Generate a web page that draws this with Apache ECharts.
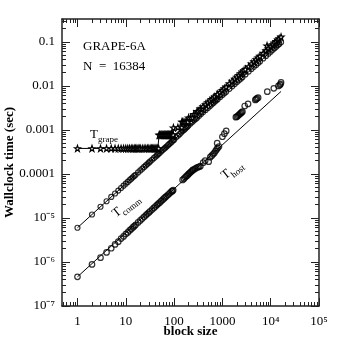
<!DOCTYPE html>
<html>
<head>
<meta charset="utf-8">
<title>GRAPE-6A wallclock time</title>
<script src="https://cdn.jsdelivr.net/npm/echarts@6/dist/echarts.min.js"></script>
<style>html,body{margin:0;padding:0;background:#fff;}</style>
</head>
<body>
<div id="main" style="width:338px;height:338px;"></div>
<script type="text/javascript">
// tick labels (positions are log10 of the value)
var xTickVals = [0, 1, 2, 3, 4, 5];
var xTickLabels = ['1', '10', '100', '1000', '10⁴', '10⁵'];
var yTickVals = [-7, -6, -5, -4, -3, -2, -1];
var yTickLabels = ['10⁻⁷', '10⁻⁶', '10⁻⁵', '0.0001', '0.001', '0.01', '0.1'];

// T_grape (stars)
var grapeN = [1,2,3,4,5,6,7,8,9,10,11,12,13,14,15,16,17,18,19,20,22,24,26,28,30,32,34,36,38,40,42,44,46,48,
  49,50,52,54,56,58,60,62,64,66,68,70,72,74,76,78,80,82,84,86,88,90,92,94,96,
  97,120,144,145,150,160,170,180,192,
  200,220,240,256,280,300,320,350,380,400,450,500,550,600,650,700,768,800,900,1000,1100,1200,1400,1600,
  1800,2000,2200,2400,2600,2800,3000,3500,4000,4500,5000,5500,6000,7000,8000,8400,9000,10000,11000,
  12000,13000,14000,15000,16384];
var grapeT = [3.8e-4,3.8e-4,3.8e-4,3.8e-4,3.8e-4,3.8e-4,3.8e-4,3.8e-4,3.8e-4,3.8e-4,3.8e-4,3.8e-4,3.8e-4,
  3.8e-4,3.8e-4,3.8e-4,3.8e-4,3.8e-4,3.8e-4,3.8e-4,3.8e-4,3.8e-4,3.8e-4,3.8e-4,3.8e-4,3.8e-4,3.8e-4,
  3.8e-4,3.8e-4,3.8e-4,3.8e-4,3.8e-4,3.8e-4,3.8e-4,
  7.7e-4,7.7e-4,7.7e-4,7.7e-4,7.7e-4,7.7e-4,7.7e-4,7.7e-4,7.7e-4,7.7e-4,7.7e-4,7.7e-4,7.7e-4,7.7e-4,
  7.7e-4,7.7e-4,7.7e-4,7.7e-4,7.7e-4,7.7e-4,7.7e-4,7.7e-4,7.7e-4,7.7e-4,7.7e-4,
  1.12e-3,1.14e-3,1.14e-3,1.52e-3,1.52e-3,1.52e-3,1.52e-3,1.52e-3,1.52e-3,
  1.9e-3,1.9e-3,1.9e-3,2.28e-3,2.28e-3,2.66e-3,2.66e-3,3.04e-3,3.04e-3,3.42e-3,3.8e-3,4.18e-3,4.56e-3,
  4.94e-3,5.32e-3,5.7e-3,6.08e-3,6.46e-3,7.22e-3,7.98e-3,8.74e-3,9.5e-3,1.14e-2,1.29e-2,
  1.44e-2,1.6e-2,1.75e-2,1.9e-2,2.09e-2,2.24e-2,2.39e-2,2.77e-2,3.19e-2,3.57e-2,3.99e-2,4.37e-2,4.75e-2,
  5.55e-2,6.35e-2,8.2e-2,7.1e-2,7.9e-2,8.7e-2,9.5e-2,0.103,0.111,0.119,0.13];

// T_comm (open circles)
var commN = [1,2,3,4,5,6,7,8,9,10,11,12,13,14,15,16,18,20,22,24,26,28,30,32,35,38,41,44,47,50,54,58,62,
  66,70,75,80,85,90,96,100,110,120,130,140,150,160,170,180,190,200,220,240,260,280,300,330,360,400,450,
  500,550,600,650,700,750,800,900,1000,1100,1200,1400,1600,1800,2000,2200,2400,2600,3000,3500,4000,
  4500,5000,5500,6000,7000,8000,9000,10000,11000,12000,13000,14000,15000,16384];
var commT = [6.0e-6,1.2e-5,1.8e-5,2.4e-5,3.0e-5,3.6e-5,4.2e-5,4.8e-5,5.4e-5,6.0e-5,6.6e-5,7.2e-5,7.8e-5,
  8.4e-5,9.0e-5,9.6e-5,1.08e-4,1.2e-4,1.32e-4,1.44e-4,1.56e-4,1.68e-4,1.8e-4,1.92e-4,2.1e-4,2.28e-4,
  2.46e-4,2.64e-4,2.82e-4,3.0e-4,3.24e-4,3.48e-4,3.72e-4,3.96e-4,4.2e-4,4.5e-4,4.8e-4,5.1e-4,5.4e-4,
  5.8e-4,6.0e-4,6.8e-4,7.4e-4,8.0e-4,8.7e-4,9.4e-4,1.0e-3,1.07e-3,1.13e-3,1.2e-3,1.27e-3,1.4e-3,
  1.53e-3,1.65e-3,1.78e-3,1.9e-3,2.1e-3,2.3e-3,2.55e-3,2.85e-3,3.15e-3,3.45e-3,3.8e-3,4.1e-3,4.4e-3,
  4.7e-3,5.0e-3,5.6e-3,6.2e-3,6.8e-3,7.4e-3,8.6e-3,9.8e-3,1.1e-2,1.22e-2,1.34e-2,1.46e-2,1.58e-2,
  1.82e-2,2.12e-2,2.42e-2,2.72e-2,3.0e-2,3.3e-2,3.6e-2,4.2e-2,4.8e-2,5.4e-2,6.0e-2,6.6e-2,7.2e-2,
  7.8e-2,8.4e-2,9.0e-2,9.8e-2];

// T_host (open circles)
var hostN = [1,2,3,4,5,6,7,8,9,10,11,12,13,14,15,16,18,20,22,24,26,28,30,32,35,38,41,44,47,50,54,58,62,
  66,70,75,80,85,90,93,96,150,160,170,180,190,200,210,220,230,240,250,270,290,310,330,350,400,440,520,
  560,600,640,680,720,760,800,850,780,1000,1100,1200,1900,2000,2100,2200,2300,2400,2500,2600,2900,3400,
  4800,5000,5200,5500,8500,11600,14500,15500,16000,16384];
var hostT = [4.6e-7,8.8e-7,1.25e-6,1.65e-6,2.05e-6,2.5e-6,2.9e-6,3.4e-6,3.8e-6,4.3e-6,4.7e-6,5.2e-6,5.6e-6,
  6.1e-6,6.5e-6,7.0e-6,7.9e-6,8.8e-6,9.7e-6,1.06e-5,1.15e-5,1.24e-5,1.33e-5,1.42e-5,1.55e-5,1.69e-5,
  1.82e-5,1.96e-5,2.1e-5,2.23e-5,2.41e-5,2.6e-5,2.78e-5,2.96e-5,3.14e-5,3.37e-5,3.6e-5,3.83e-5,4.05e-5,
  4.1e-5,4.3e-5,7.3e-5,7.8e-5,8.4e-5,8.9e-5,9.4e-5,1.0e-4,1.05e-4,1.1e-4,1.15e-4,1.2e-4,1.25e-4,1.3e-4,
  1.38e-4,1.42e-4,1.45e-4,1.5e-4,1.8e-4,2.0e-4,1.9e-4,2.4e-4,2.6e-4,2.8e-4,3.0e-4,3.3e-4,3.6e-4,3.9e-4,
  4.2e-4,5.0e-4,7.0e-4,8.2e-4,9.5e-4,1.95e-3,2.0e-3,2.1e-3,2.2e-3,2.3e-3,2.4e-3,2.5e-3,2.6e-3,3.5e-3,
  3.9e-3,4.8e-3,5.0e-3,5.2e-3,5.4e-3,7.4e-3,8.8e-3,1.0e-2,1.05e-2,1.1e-2,1.2e-2];

// straight reference lines
var commLineN = [1, 16384];
var commLineT = [6.0e-6, 0.098];
var hostLineN = [1, 16384];
var hostLineT = [4.6e-7, 7.5e-3];

function toLog(ns, ts) {
  return ns.map(function (n, i) { return [Math.log10(n), Math.log10(ts[i])]; });
}

var X_MIN = -0.32, X_MAX = 5, Y_MIN = -7, Y_MAX = -0.48;
var FONT = 'Liberation Serif';
var INK = '#222';

function minorTicks(d0, d1, lo, hi) {
  var out = [];
  for (var d = d0; d <= d1; d++) {
    for (var k = 2; k <= 9; k++) {
      var v = d + Math.log10(k);
      if (v > lo && v < hi) out.push(v);
    }
  }
  return out;
}
var xMinor = minorTicks(-1, 4, X_MIN, X_MAX);
var yMinor = minorTicks(-8, -1, Y_MIN, Y_MAX);

function xAxisDef(pos, major) {
  return {
    type: 'value', min: X_MIN, max: X_MAX, position: pos,
    axisLine: { show: major, onZero: false, lineStyle: { color: INK, width: 1.5 } },
    axisTick: { show: true, inside: true, length: major ? 8 : 4,
      customValues: major ? xTickVals : xMinor, lineStyle: { color: INK, width: 1 } },
    axisLabel: { show: major && pos === 'bottom', customValues: xTickVals, margin: 9,
      fontFamily: FONT, fontSize: 13, color: '#000',
      formatter: function (v) { return xTickLabels[xTickVals.indexOf(Math.round(v))]; } },
    splitLine: { show: false },
    name: (major && pos === 'bottom') ? 'block size' : '',
    nameLocation: 'middle', nameGap: 19, nameMoveOverlap: false,
    nameTextStyle: { fontFamily: FONT, fontSize: 13, fontWeight: 'bold', color: '#000' }
  };
}
function yAxisDef(pos, major) {
  return {
    type: 'value', min: Y_MIN, max: Y_MAX, position: pos,
    axisLine: { show: major, onZero: false, lineStyle: { color: INK, width: 1.5 } },
    axisTick: { show: true, inside: true, length: major ? 8 : 4,
      customValues: major ? yTickVals : yMinor, lineStyle: { color: INK, width: 1 } },
    axisLabel: { show: major && pos === 'left', customValues: yTickVals, margin: 7,
      fontFamily: FONT, fontSize: 13, color: '#000',
      formatter: function (v) { return yTickLabels[yTickVals.indexOf(Math.round(v))]; } },
    splitLine: { show: false },
    name: (major && pos === 'left') ? 'Wallclock time (sec)' : '',
    nameLocation: 'middle', nameGap: 46, nameMoveOverlap: false,
    nameTextStyle: { fontFamily: FONT, fontSize: 13, fontWeight: 'bold', color: '#000' }
  };
}

var star = 'path://M0,-10L2.35,-3.24L9.51,-3.09L3.8,1.24L5.88,8.09L0,4L-5.88,8.09L-3.8,1.24L-9.51,-3.09L-2.35,-3.24Z';
var openItem = { color: 'rgba(0,0,0,0)', borderColor: '#000', borderWidth: 1.2 };

var myChart = echarts.init(document.getElementById('main'));
myChart.setOption({
  animation: false,
  backgroundColor: '#fff',
  grid: { left: 62, right: 19, top: 19, bottom: 32, containLabel: false, outerBoundsMode: 'none' },
  xAxis: [xAxisDef('bottom', true), xAxisDef('bottom', false), xAxisDef('top', true), xAxisDef('top', false)],
  yAxis: [yAxisDef('left', true), yAxisDef('left', false), yAxisDef('right', true), yAxisDef('right', false)],
  series: [
    { name: 'comm fit', type: 'line', data: toLog(commLineN, commLineT), showSymbol: false,
      lineStyle: { color: '#000', width: 1 }, silent: true },
    { name: 'host fit', type: 'line', data: toLog(hostLineN, hostLineT), showSymbol: false,
      lineStyle: { color: '#000', width: 1 }, silent: true },
    { name: 'T_comm', type: 'scatter', data: toLog(commN, commT), symbol: 'circle', symbolSize: 5,
      itemStyle: openItem },
    { name: 'T_host', type: 'scatter', data: toLog(hostN, hostT), symbol: 'circle', symbolSize: 5.5,
      itemStyle: openItem },
    { name: 'T_grape', type: 'line', data: toLog(grapeN, grapeT), symbol: star, symbolSize: 6,
      showAllSymbol: true,
      lineStyle: { color: '#000', width: 1 },
      itemStyle: { color: '#fff', borderColor: '#000', borderWidth: 1.2 } }
  ],
  graphic: [
    { type: 'text', left: 83, top: 40, style: { text: 'GRAPE-6A', font: '13px "Liberation Serif"', fill: '#000' } },
    { type: 'text', left: 83, top: 60, style: { text: 'N  =  16384', font: '13px "Liberation Serif"', fill: '#000' } },
    { type: 'group', x: 90, y: 128, children: [
      { type: 'text', x: 0, y: 0, style: { text: 'T', font: '13px "Liberation Serif"', fill: '#000' } },
      { type: 'text', x: 8, y: 7, style: { text: 'grape', font: '9px "Liberation Serif"', fill: '#000' } }
    ] },
    { type: 'group', x: 110, y: 210, rotation: 38 * Math.PI / 180, children: [
      { type: 'text', x: 0, y: 0, style: { text: 'T', font: '13px "Liberation Serif"', fill: '#000' } },
      { type: 'text', x: 8, y: 7, style: { text: 'comm', font: '9px "Liberation Serif"', fill: '#000' } }
    ] },
    { type: 'group', x: 219, y: 172, rotation: 38 * Math.PI / 180, children: [
      { type: 'text', x: 0, y: 0, style: { text: 'T', font: '13px "Liberation Serif"', fill: '#000' } },
      { type: 'text', x: 8, y: 7, style: { text: 'host', font: '9px "Liberation Serif"', fill: '#000' } }
    ] }
  ]
});
</script>
</body>
</html>
